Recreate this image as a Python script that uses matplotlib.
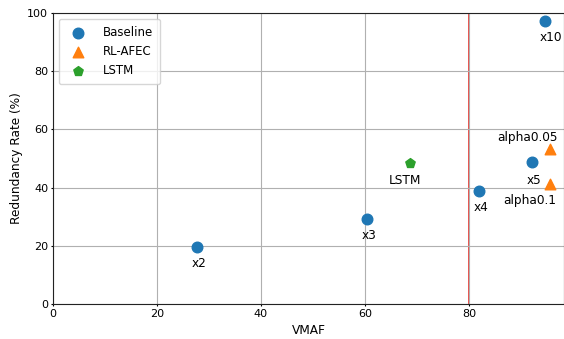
import matplotlib
matplotlib.use('Agg')
import matplotlib.pyplot as plt

# data
base_vmaf = [27.7, 60.4, 81.9, 92.1, 94.6]
base_rate = [19.6, 29.2, 38.8, 48.8, 97.3]
base_lbl = ['x2', 'x3', 'x4', 'x5', 'x10']

afec_vmaf = [95.6, 95.6]
afec_rate = [53.3, 41.2]
afec_lbl = ['alpha0.05', 'alpha0.1']

lstm_vmaf = [68.7]
lstm_rate = [48.5]
lstm_lbl = ['LSTM']

# label offsets (points)
base_off = [(1.5, -12), (1.5, -12), (1.5, -12), (1.5, -13), (4.5, -12)]
afec_off = [(-16, 8.5), (-14.5, -11.5)]
lstm_off = [(-3.5, -13)]

plt.rcParams['font.size'] = 8.7
plt.rcParams['xtick.labelsize'] = 8
plt.rcParams['ytick.labelsize'] = 8
plt.rcParams['xtick.major.size'] = 1.5
plt.rcParams['ytick.major.size'] = 1.5
plt.rcParams['xtick.major.pad'] = 2
plt.rcParams['ytick.major.pad'] = 2
fig = plt.figure(figsize=(5.64, 3.39), dpi=100)
ax = fig.add_axes([53 / 564, 1 - 304 / 339, 1 - 53 / 564, (304 - 13) / 339])

ax.grid(True, color='#b0b0b0', linewidth=0.8, zorder=0)
ax.axvline(80, color='#e8413c', linewidth=1.3, zorder=1)

ax.scatter(base_vmaf, base_rate, s=58, color='#1f77b4', marker='o', label='Baseline', zorder=3)
ax.scatter(afec_vmaf, afec_rate, s=58, color='#ff7f0e', marker='^', label='RL-AFEC', zorder=3)
ax.scatter(lstm_vmaf, lstm_rate, s=50, color='#2ca02c', marker='p', label='LSTM', zorder=3)

for xs, ys, ls, offs in [(base_vmaf, base_rate, base_lbl, base_off),
                         (afec_vmaf, afec_rate, afec_lbl, afec_off),
                         (lstm_vmaf, lstm_rate, lstm_lbl, lstm_off)]:
    for x, y, l, o in zip(xs, ys, ls, offs):
        ax.annotate(l, (x, y), xytext=o, textcoords='offset points',
                    ha='center', va='center', fontsize=8.7)

ax.set_xlim(0, 98.3)
ax.set_ylim(0, 100)
ax.set_xticks([0, 20, 40, 60, 80])
ax.set_xlabel('VMAF', labelpad=3.5)
ax.set_ylabel('Redundancy Rate (%)', labelpad=3)
for s in ['left', 'bottom', 'top']:
    ax.spines[s].set_color('#222222')
ax.legend(loc='upper left', fontsize=8.5, borderpad=0.6, handletextpad=1.1)

fig.savefig('out.png', dpi=100)
